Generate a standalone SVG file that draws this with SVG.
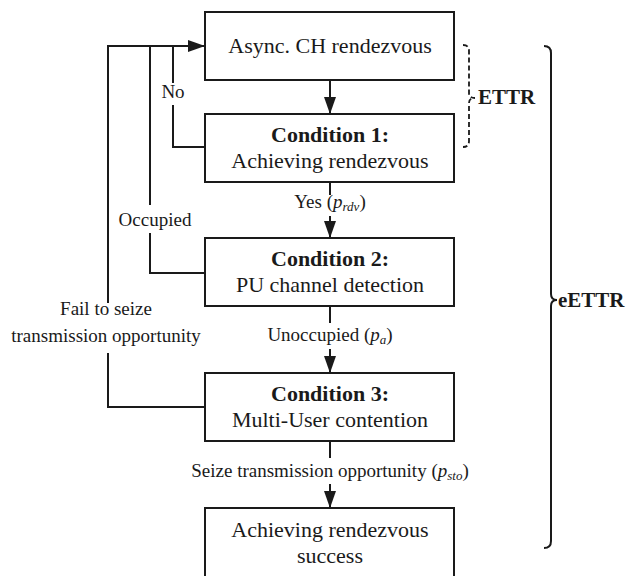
<svg xmlns="http://www.w3.org/2000/svg" width="629" height="576" viewBox="0 0 629 576">
  <defs>
    <marker id="arrow" markerUnits="userSpaceOnUse" markerWidth="17" markerHeight="12" refX="17" refY="6" orient="auto" viewBox="0 0 17 12">
      <path d="M0,0 L17,6 L0,12 Z" fill="#1a1a1a"/>
    </marker>
    <style>
      .box { fill: #fff; stroke: #1a1a1a; stroke-width: 2; }
      .line { fill: none; stroke: #1a1a1a; stroke-width: 2; }
      .dash { fill: none; stroke: #1a1a1a; stroke-width: 1.8; stroke-dasharray: 5 3; }
      .t { font-family: "Liberation Serif", "Times New Roman", Times, serif; font-size: 22px; fill: #1a1a1a; text-anchor: middle; }
      .b { font-weight: bold; }
      .lbl { font-family: "Liberation Serif", "Times New Roman", Times, serif; font-size: 19px; fill: #1a1a1a; text-anchor: middle; }
      .i { font-style: italic; }
      .sub { font-style: italic; font-size: 13px; }
      .tag { font-family: "Liberation Serif", "Times New Roman", Times, serif; font-size: 21px; font-weight: bold; fill: #1a1a1a; }
    </style>
  </defs>
  <rect width="629" height="576" fill="#fff"/>

  <!-- connectors -->
  <g id="connectors">
    <!-- forward flow -->
    <line class="line" x1="330" y1="80" x2="330" y2="114" marker-end="url(#arrow)"/>
    <line class="line" x1="330" y1="182" x2="330" y2="195"/>
    <line class="line" x1="330" y1="216" x2="330" y2="238" marker-end="url(#arrow)"/>
    <line class="line" x1="330" y1="306" x2="330" y2="323"/>
    <line class="line" x1="330" y1="349" x2="330" y2="373" marker-end="url(#arrow)"/>
    <line class="line" x1="330" y1="441" x2="330" y2="458"/>
    <line class="line" x1="330" y1="484" x2="330" y2="508" marker-end="url(#arrow)"/>

    <!-- feedback loops -->
    <line class="line" x1="107" y1="46" x2="205" y2="46" marker-end="url(#arrow)"/>
    <polyline class="line" points="205,147 173,147 173,105"/>
    <line class="line" x1="173" y1="83" x2="173" y2="46"/>
    <polyline class="line" points="205,273 150,273 150,233"/>
    <line class="line" x1="150" y1="205" x2="150" y2="46"/>
    <polyline class="line" points="205,407 108,407 108,353"/>
    <line class="line" x1="108" y1="303" x2="108" y2="46"/>

    <!-- labels on connectors -->
    <text class="lbl" x="173" y="98">No</text>
    <text class="lbl" x="155" y="226">Occupied</text>
    <text class="lbl" x="106" y="315">Fail to seize</text>
    <text class="lbl" x="106" y="342">transmission opportunity</text>
    <text class="lbl" x="330" y="208">Yes (<tspan class="i">p</tspan><tspan class="sub" dy="3">rdv</tspan><tspan dy="-3">)</tspan></text>
    <text class="lbl" x="330" y="341">Unoccupied (<tspan class="i">p</tspan><tspan class="sub" dy="3">a</tspan><tspan dy="-3">)</tspan></text>
    <text class="lbl" x="330" y="477">Seize transmission opportunity (<tspan class="i">p</tspan><tspan class="sub" dy="3">sto</tspan><tspan dy="-3">)</tspan></text>
  </g>

  <!-- nodes -->
  <g id="async">
    <rect class="box" x="205" y="12" width="249" height="68"/>
    <text class="t" x="330" y="53">Async. CH rendezvous</text>
  </g>
  <g id="cond1">
    <rect class="box" x="205" y="114" width="249" height="68"/>
    <text class="t b" x="330" y="142">Condition 1:</text>
    <text class="t" x="330" y="168">Achieving rendezvous</text>
  </g>
  <g id="cond2">
    <rect class="box" x="205" y="238" width="249" height="68"/>
    <text class="t b" x="330" y="266">Condition 2:</text>
    <text class="t" x="330" y="292">PU channel detection</text>
  </g>
  <g id="cond3">
    <rect class="box" x="205" y="373" width="249" height="68"/>
    <text class="t b" x="330" y="401">Condition 3:</text>
    <text class="t" x="330" y="427">Multi-User contention</text>
  </g>
  <g id="success">
    <rect class="box" x="205" y="508" width="249" height="80"/>
    <text class="t" x="330" y="537">Achieving rendezvous</text>
    <text class="t" x="330" y="563">success</text>
  </g>

  <!-- scope braces -->
  <g id="ettr">
    <path class="dash" d="M463,45 Q469,45 469,51 L469,93 Q469,98 475,98 Q469,98 469,103 L469,141 Q469,147 463,147"/>
    <text class="tag" x="478" y="104">ETTR</text>
  </g>
  <g id="eettr">
    <path class="line" d="M544,46 Q551,46 551,53 L551,294 Q551,300 557,300 Q551,300 551,306 L551,541 Q551,548 544,548"/>
    <text class="tag" x="558" y="307">eETTR</text>
  </g>
</svg>
